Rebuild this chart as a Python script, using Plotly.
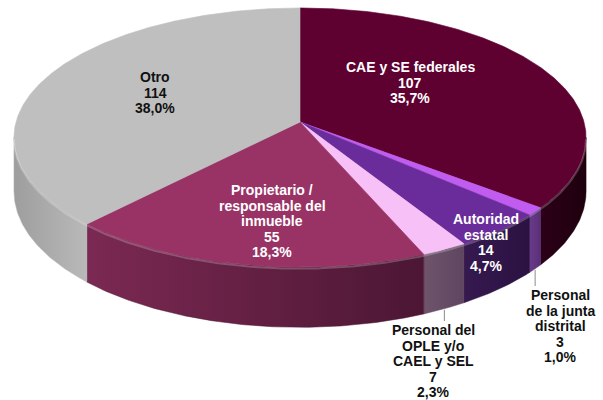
import numpy as np
import plotly.graph_objects as go

# ---------------- data ----------------
categories = ["CAE y SE federales", "Personal de la junta distrital", "Autoridad estatal",
              "Personal del OPLE y/o CAEL y SEL", "Propietario / responsable del inmueble", "Otro"]
values = [107, 3, 14, 7, 55, 114]
label_lines = [["CAE y SE federales"],
               ["Personal", "de la junta", "distrital"],
               ["Autoridad", "estatal"],
               ["Personal del", "OPLE y/o", "CAEL y SEL"],
               ["Propietario /", "responsable del", "inmueble"],
               ["Otro"]]

# ---------------- style ----------------
top_colors = ["#5e0030", "#c05cf0", "#6a2c9a", "#f7c1f7", "#993366", "#bfbfbf"]
side_colors = [["#2c0018", "#1e000e"], ["#6a3a8a", "#5a3078"], ["#36194f", "#2b1242"],
               ["#6f546c", "#5f4560"], ["#7b2952", "#4c1634"], ["#9e9e9e", "#b9b9b9"]]
text_colors = ["white", "#111111", "white", "#111111", "white", "#111111"]
label_pos = [(410, 67), (560, 295), (486, 219), (433, 330), (272, 190), (155, 77)]
leader = [False, True, False, True, False, False]
LINE_H = 15.5
FONT = "Liberation Sans, Arial, sans-serif"

CX, CY, RX, RY, PA, DEPTH = 300, 122, 284, 127.7, 0.12, 53


def proj(theta_deg, drop=0.0):
    t = np.radians(theta_deg)
    X = np.sin(t)
    Y = -np.cos(t)
    k = 1.0 / (1.0 - PA * Y)
    return CX + RX * X * k, CY + RY * Y * k + drop * DEPTH * k


total = sum(values)
cum = np.concatenate([[0], np.cumsum(values)]) / total * 360.0
th_r = np.degrees(np.arccos(-PA))
th_l = 360.0 - th_r

fig = go.Figure()

# walls (front visible part)
for i in range(len(values)):
    a, b = max(cum[i], th_r), min(cum[i + 1], th_l)
    if b <= a:
        continue
    th = np.linspace(a, b, max(int((b - a) * 2), 4))
    tx, ty = proj(th)
    bx, by = proj(th, 1.0)
    xs = np.concatenate([tx, bx[::-1], tx[:1]])
    ys = np.concatenate([ty, by[::-1], ty[:1]])
    fig.add_trace(go.Scatter(
        x=xs, y=ys, mode="lines", fill="toself",
        fillgradient=dict(type="horizontal",
                          colorscale=[[0, side_colors[i][0]], [1, side_colors[i][1]]]),
        line=dict(width=0.5, color=side_colors[i][1]), hoverinfo="skip", showlegend=False))

# top faces
for i in range(len(values)):
    a, b = cum[i], cum[i + 1]
    th = np.linspace(a, b, max(int((b - a) * 2), 4))
    ax, ay = proj(th)
    xs = np.concatenate([[CX], ax, [CX]])
    ys = np.concatenate([[CY], ay, [CY]])
    fig.add_trace(go.Scatter(
        x=xs, y=ys, mode="lines", fill="toself", fillcolor=top_colors[i],
        line=dict(width=0.6, color=top_colors[i]), hoverinfo="skip", showlegend=False))

# rim highlight along front edge
th = np.linspace(th_r, th_l, 300)
hx, hy = proj(th)
fig.add_trace(go.Scatter(x=hx, y=hy + 1.5, mode="lines",
                         line=dict(width=2, color="rgba(255,255,255,0.22)"),
                         hoverinfo="skip", showlegend=False))

# leader lines
for i in range(len(values)):
    if not leader[i]:
        continue
    mid = (cum[i] + cum[i + 1]) / 2
    x0, y0 = proj(mid, 1.0)
    y1 = label_pos[i][1] - 9
    fig.add_trace(go.Scatter(x=[x0, x0], y=[y0 + 1, y1], mode="lines",
                             line=dict(width=1, color="#8c8c8c"),
                             hoverinfo="skip", showlegend=False))

# labels
annotations = []
for i, v in enumerate(values):
    pct = f"{v / total * 100:.1f}".replace(".", ",") + "%"
    lines = label_lines[i] + [str(v), pct]
    lx, ly = label_pos[i]
    for j, s in enumerate(lines):
        annotations.append(dict(
            x=lx, y=ly + j * LINE_H, xref="x", yref="y", text=f"<b>{s}</b>",
            showarrow=False, xanchor="center", yanchor="middle",
            font=dict(family=FONT, size=14, color=text_colors[i])))

fig.update_layout(
    width=603, height=400, margin=dict(l=0, r=0, t=0, b=0),
    paper_bgcolor="white", plot_bgcolor="white",
    xaxis=dict(range=[0, 603], visible=False, fixedrange=True),
    yaxis=dict(range=[400, 0], visible=False, fixedrange=True),
    annotations=annotations, showlegend=False)

fig.write_html("out.html", config={"displayModeBar": False},
               post_script="document.body.style.margin='0';document.body.style.overflow='hidden';")
